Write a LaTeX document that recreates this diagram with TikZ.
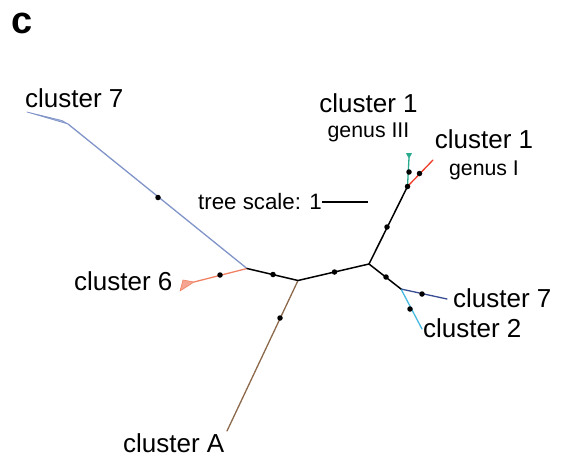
\documentclass[tikz,border=0pt]{standalone}
\usepackage{fontspec}
\setmainfont{Liberation Sans}
\definecolor{cblue}{RGB}{128,148,200}
\definecolor{cbluefill}{RGB}{165,180,222}
\definecolor{corange}{RGB}{240,130,100}
\definecolor{corangefill}{RGB}{245,165,145}
\definecolor{cbrown}{RGB}{140,105,75}
\definecolor{cgreen}{RGB}{40,170,145}
\definecolor{cred}{RGB}{238,60,40}
\definecolor{cdblue}{RGB}{55,75,145}
\definecolor{ccyan}{RGB}{70,185,225}
\tikzset{
  branch/.style={line width=1.3pt, line cap=round, line join=round},
  inner/.style={branch, black, line width=1.5pt},
  dotmark/.style={circle, fill=black, inner sep=0pt, minimum size=5.5pt},
  biglabel/.style={inner sep=0pt, anchor=base west, font=\fontsize{26}{30}\selectfont},
  biglabelc/.style={inner sep=0pt, anchor=base, font=\fontsize{26}{30}\selectfont},
  smalllabel/.style={inner sep=0pt, anchor=base, font=\fontsize{21.3}{24}\selectfont},
}
\begin{document}
\begin{tikzpicture}[x=1pt, y=-1pt]
\useasboundingbox (0,0) rectangle (563,458);
% internal nodes
\coordinate (A) at (247,268.5);
\coordinate (B) at (298,280.5);
\coordinate (C) at (369,264);
\coordinate (D) at (407.5,186.5);
\coordinate (E) at (401,289);
% leaf ends
\coordinate (L7a) at (68,124);
\coordinate (L7tip) at (27,112);
\coordinate (L7tip2) at (62,120.5);
\coordinate (L6a) at (194,282);
\coordinate (L6tip) at (180,291);
\coordinate (L6tip2) at (183,280);
\coordinate (LA) at (227,431);
\coordinate (G3a) at (409,158);
\coordinate (G1) at (433,160);
\coordinate (R7) at (447,299);
\coordinate (C2) at (422,329);
% scale bar ends
\coordinate (s1) at (322,202);
\coordinate (s2) at (368,202);

% collapsed clades
\fill[cbluefill, draw=cblue, line width=0.7pt, line join=round] (L7a) -- (L7tip) -- (L7tip2) -- cycle;
\fill[corangefill, draw=corange, line width=0.6pt, line join=round] (L6a) -- (L6tip2) -- (L6tip) -- cycle;
\fill[cgreen, draw=cgreen, line width=0.6pt, line join=round] (406.5,153.5) -- (411.5,153.5) -- (G3a) -- cycle;

% branches
\draw[branch, cblue] (A) -- (L7a);
\draw[branch, corange] (A) -- (L6a);
\draw[branch, cbrown] (B) -- (LA);
\draw[branch, cgreen] (D) -- (G3a);
\draw[branch, cred] (D) -- (G1);
\draw[branch, cdblue] (E) -- (R7);
\draw[branch, ccyan] (E) -- (C2);
\draw[inner] (A) -- (B) -- (C) -- (D);
\draw[inner] (C) -- (E);

% dots
\node[dotmark] (d1) at (158,197.5) {};
\node[dotmark] (d2) at (220,275) {};
\node[dotmark] (d3) at (273,274.5) {};
\node[dotmark] (d4) at (280,318) {};
\node[dotmark] (d5) at (334.5,272) {};
\node[dotmark] (d6) at (387,227) {};
\node[dotmark] (d7) at (407.5,186.5) {};
\node[dotmark] (d8) at (409,172) {};
\node[dotmark] (d9) at (419.5,173.5) {};
\node[dotmark] (d10) at (386,277) {};
\node[dotmark] (d11) at (422,294) {};
\node[dotmark] (d12) at (410,309) {};

% scale bar
\draw[black, line width=1.8pt] (s1) -- (s2);

% labels
\node[inner sep=0pt, anchor=base west, font=\fontsize{38}{40}\selectfont\bfseries] (panel) at (11,33) {c};
\node[biglabel] (t7a) at (25,107) {cluster 7};
\node[biglabel] (t6) at (74,290) {cluster 6};
\node[biglabelc] (t1a) at (368.5,112) {cluster 1};
\node[smalllabel] (g3) at (368.5,137.5) {genus III};
\node[biglabelc] (t1b) at (484,148) {cluster 1};
\node[smalllabel] (g1) at (484,175) {genus I};
\node[inner sep=0pt, anchor=base west, font=\fontsize{22.3}{24}\selectfont] (ts) at (198,209) {tree scale: 1};
\node[biglabel] (t7b) at (453,307) {cluster 7};
\node[biglabel] (t2) at (423,337) {cluster 2};
\node[biglabel] (tA) at (123,452) {cluster A};
\end{tikzpicture}
\end{document}
